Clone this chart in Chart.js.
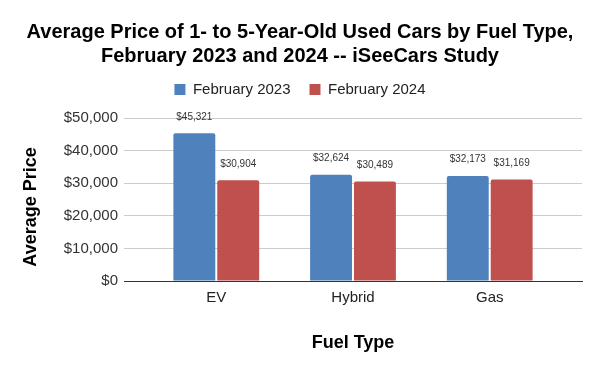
<!DOCTYPE html>
<html>
<head>
<meta charset="utf-8">
<script src="https://cdn.jsdelivr.net/npm/chart.js@4.4.1/dist/chart.umd.min.js"></script>
<style>
  html, body { margin: 0; padding: 0; background: #ffffff; }
  #wrap { width: 600px; height: 371px; }
</style>
</head>
<body>
<div id="wrap"><canvas id="c" width="600" height="371"></canvas></div>
<script>
const categories = ['EV', 'Hybrid', 'Gas'];
const seriesNames = ['February 2023', 'February 2024'];
const feb2023 = [45321, 32624, 32173];
const feb2024 = [30904, 30489, 31169];
const yTicks = [0, 10000, 20000, 30000, 40000, 50000];

const FONT = "'Liberation Sans', Arial, sans-serif";
const money = v => '$' + Number(v).toLocaleString('en-US');

const dataLabels = {
  id: 'dataLabels',
  afterDatasetsDraw(chart) {
    const ctx = chart.ctx;
    ctx.save();
    ctx.font = '10px ' + FONT;
    ctx.fillStyle = '#333333';
    ctx.textAlign = 'center';
    ctx.textBaseline = 'middle';
    chart.data.datasets.forEach((ds, i) => {
      const meta = chart.getDatasetMeta(i);
      meta.data.forEach((el, j) => {
        ctx.fillText(money(ds.data[j]), el.x, el.y - 16.5);
      });
    });
    ctx.restore();
  }
};

const legendSpacer = {
  id: 'legendSpacer',
  beforeLayout(chart) {
    const lg = chart.legend;
    if (lg && !lg._patched) {
      const orig = lg.fit;
      lg.fit = function () { orig.call(this); this.height += 11; };
      lg._patched = true;
    }
  }
};

new Chart(document.getElementById('c'), {
  type: 'bar',
  data: {
    labels: categories,
    datasets: [
      { label: seriesNames[0], data: feb2023, backgroundColor: '#4f81bd',
        borderRadius: { topLeft: 2, topRight: 2 }, borderSkipped: 'bottom' },
      { label: seriesNames[1], data: feb2024, backgroundColor: '#c0504d',
        borderRadius: { topLeft: 2, topRight: 2 }, borderSkipped: 'bottom' }
    ]
  },
  options: {
    responsive: false,
    animation: false,
    devicePixelRatio: 1,
    layout: { padding: { left: 0, right: 0, top: 0, bottom: 0 } },
    datasets: { bar: { categoryPercentage: 0.642, barPercentage: 0.955 } },
    plugins: {
      tooltip: { enabled: false },
      title: {
        display: true,
        text: ['Average Price of 1- to 5-Year-Old Used Cars by Fuel Type,', 'February 2023 and 2024 -- iSeeCars Study'],
        color: '#000000',
        font: { family: FONT, size: 20, weight: 'bold', lineHeight: 1.2 },
        padding: { top: 20, bottom: -5 }
      },
      legend: {
        display: true,
        position: 'top',
        labels: {
          color: '#222222',
          font: { family: FONT, size: 15 },
          boxWidth: 11,
          boxHeight: 11,
          padding: 19
        }
      }
    },
    scales: {
      x: {
        grid: { display: false, drawTicks: false },
        border: { display: true, color: '#333333', width: 1 },
        ticks: { color: '#222222', font: { family: FONT, size: 15 }, padding: 8 },
        title: { display: true, text: 'Fuel Type', color: '#000000',
                 font: { family: FONT, size: 18, weight: 'bold' }, padding: { top: 4, bottom: 17 } },
        afterBuildTicks(scale) {
          scale._startValue = -0.675;
          scale._valueRange = 3.35;
        },
        afterFit(scale) { scale.height = 90; }
      },
      y: {
        min: 0,
        max: 50000,
        afterBuildTicks(scale) { scale.ticks = yTicks.map(v => ({ value: v })); },
        grid: { color: '#cccccc', drawTicks: false },
        border: { display: false },
        ticks: { color: '#333333', font: { family: FONT, size: 15 }, padding: 6,
                 callback: v => money(v) },
        title: { display: true, text: 'Average Price   ', color: '#000000',
                 font: { family: FONT, size: 18, weight: 'bold' }, padding: { top: 20, bottom: 0 } },
        afterFit(scale) { scale.width = 124; }
      },
      yRightSpace: {
        type: 'linear',
        position: 'right',
        display: true,
        grid: { display: false, drawTicks: false },
        border: { display: false },
        ticks: { display: false },
        afterFit(scale) { scale.width = 18; }
      }
    }
  },
  plugins: [dataLabels, legendSpacer]
});
</script>
</body>
</html>
